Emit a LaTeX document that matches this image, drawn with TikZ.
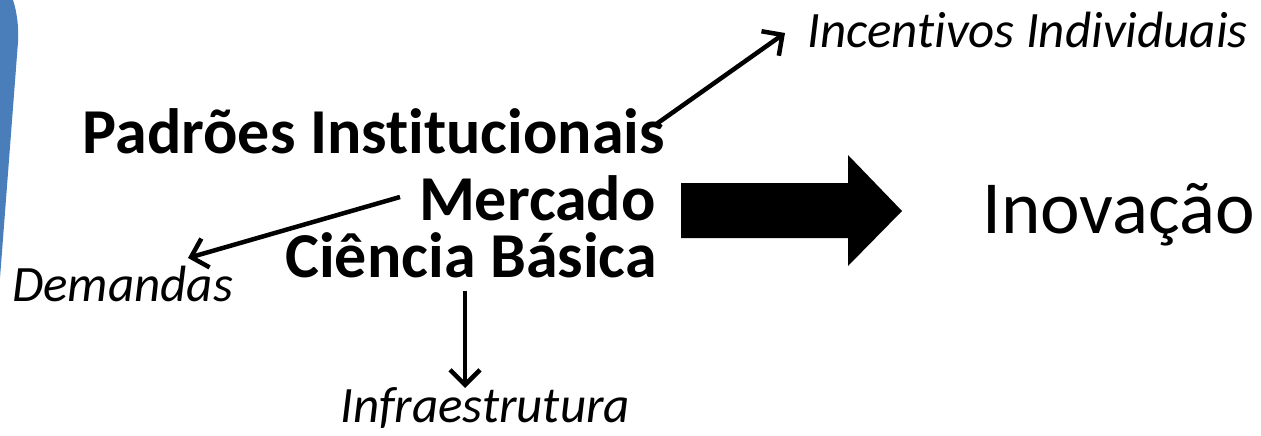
\documentclass[tikz,border=0pt]{standalone}
\usepackage{fontspec}
\setmainfont{Carlito}[Ligatures=NoCommon]
\usetikzlibrary{arrows.meta}

\definecolor{sideblue}{RGB}{74,126,187}

\tikzset{
  factor/.style={font=\bfseries\fontsize{64}{76}\selectfont, inner sep=0pt},
  effect/.style={font=\itshape\fontsize{51}{60}\selectfont, inner sep=0pt},
  link/.style={line width=4.5pt, -{Straight Barb[length=15pt, width=30pt, line width=4.5pt]}}
}

\begin{document}
\begin{tikzpicture}[x=1pt, y=-1pt]
    \useasboundingbox (0,0) rectangle (1261,436);
    % blue edge on the left
    \fill[sideblue] (0,0) -- (13,0)
      .. controls (17,12) and (19,28) .. (18,42)
      -- (0,278) -- cycle;
    % factors
    \node[factor, anchor=base east] (padroes) at (665,153) {Padrões Institucionais};
    \node[factor, anchor=base east] (mercado) at (656,220) {Mercado};
    \node[factor, anchor=base east] (ciencia) at (657,277) {Ciência Básica};
    % effects
    \node[effect, anchor=base west] (incentivos) at (807,48) {Incentivos Individuais};
    \node[effect, anchor=base west] (demandas) at (12,301) {Demandas};
    \node[effect, anchor=base west] (infra) at (340,422) {Infraestrutura};
    \node[font=\fontsize{75}{90}\selectfont, inner sep=0pt, anchor=base west]
      (inovacao) at (982,233) {Inovação};
    % big arrow
    \fill (681,183) -- (848,183) -- (848,155) -- (902,211)
      -- (848,266) -- (848,238) -- (681,238) -- cycle;
    % thin arrows
    \draw[link] ([xshift=-10pt, yshift=28pt]padroes.base east)
      -- ([xshift=-22pt, yshift=15pt]incentivos.base west);
    \draw[link] ([xshift=-256pt, yshift=23pt]mercado.base east)
      -- ([xshift=176pt, yshift=43pt]demandas.base west);
    \draw[link] ([xshift=-192pt, yshift=-14pt]ciencia.base east)
      -- ([xshift=125pt, yshift=34pt]infra.base west);
\end{tikzpicture}
\end{document}
